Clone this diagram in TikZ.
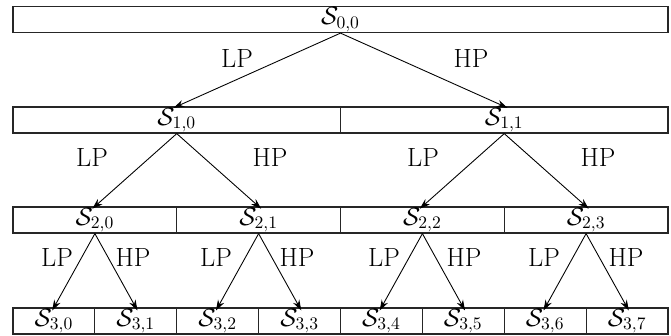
\documentclass[tikz,border=0pt]{standalone}
\usetikzlibrary{arrows.meta}
\tikzset{
  band/.style={draw=black!85, line width=0.7pt, rectangle, inner sep=0pt,
    minimum height=0.52cm, font=\fontsize{14.5}{16}\selectfont},
  split/.style={-{Stealth[length=6pt,width=4pt]}, line width=0.5pt, shorten >=-2pt},
  filt/.style={font=\fontsize{15}{17}\selectfont}
}
\begin{document}
\begin{tikzpicture}[x=0.02cm,y=-0.02cm]
  \useasboundingbox (0,0) rectangle (671,335);
  % level 0 and 1
  \node[band,minimum width=13.1cm] (s00) at (340.5,19.5) {$\mathcal{S}_{0,0}$};
  \node[band,minimum width=6.55cm] (s10) at (176.75,120) {$\mathcal{S}_{1,0}$};
  \node[band,minimum width=6.55cm] (s11) at (504.25,120) {$\mathcal{S}_{1,1}$};
  % level 2
  \node[band,minimum width=3.275cm] (s20) at (94.9,220) {$\mathcal{S}_{2,0}$};
  \node[band,minimum width=3.275cm] (s21) at (258.6,220) {$\mathcal{S}_{2,1}$};
  \node[band,minimum width=3.275cm] (s22) at (422.4,220) {$\mathcal{S}_{2,2}$};
  \node[band,minimum width=3.275cm] (s23) at (586.1,220) {$\mathcal{S}_{2,3}$};
  % level 3
  \node[band,minimum width=1.6375cm] (s30) at (53.9,321) {$\mathcal{S}_{3,0}$};
  \node[band,minimum width=1.6375cm] (s31) at (135.8,321) {$\mathcal{S}_{3,1}$};
  \node[band,minimum width=1.6375cm] (s32) at (217.7,321) {$\mathcal{S}_{3,2}$};
  \node[band,minimum width=1.6375cm] (s33) at (299.6,321) {$\mathcal{S}_{3,3}$};
  \node[band,minimum width=1.6375cm] (s34) at (381.4,321) {$\mathcal{S}_{3,4}$};
  \node[band,minimum width=1.6375cm] (s35) at (463.3,321) {$\mathcal{S}_{3,5}$};
  \node[band,minimum width=1.6375cm] (s36) at (545.2,321) {$\mathcal{S}_{3,6}$};
  \node[band,minimum width=1.6375cm] (s37) at (627.1,321) {$\mathcal{S}_{3,7}$};
  % splits
  \draw[split] (s00.south) -- (s10.north); \draw[split] (s00.south) -- (s11.north);
  \draw[split] (s10.south) -- (s20.north); \draw[split] (s10.south) -- (s21.north);
  \draw[split] (s11.south) -- (s22.north); \draw[split] (s11.south) -- (s23.north);
  \draw[split] (s20.south) -- (s30.north); \draw[split] (s20.south) -- (s31.north);
  \draw[split] (s21.south) -- (s32.north); \draw[split] (s21.south) -- (s33.north);
  \draw[split] (s22.south) -- (s34.north); \draw[split] (s22.south) -- (s35.north);
  \draw[split] (s23.south) -- (s36.north); \draw[split] (s23.south) -- (s37.north);
  % filter labels
  \node[filt] (lp0) at (237,58) {LP}; \node[filt] (hp0) at (471,58) {HP};
  \node[filt] (lp10) at (92,157) {LP}; \node[filt] (hp10) at (270,157) {HP};
  \node[filt] (lp11) at (423,157) {LP}; \node[filt] (hp11) at (598,157) {HP};
  \node[filt] (lp20) at (57,257) {LP}; \node[filt] (hp20) at (133,257) {HP};
  \node[filt] (lp21) at (216,257) {LP}; \node[filt] (hp21) at (297,257) {HP};
  \node[filt] (lp22) at (384,257) {LP}; \node[filt] (hp22) at (464,257) {HP};
  \node[filt] (lp23) at (544,257) {LP}; \node[filt] (hp23) at (626,257) {HP};
\end{tikzpicture}
\end{document}
